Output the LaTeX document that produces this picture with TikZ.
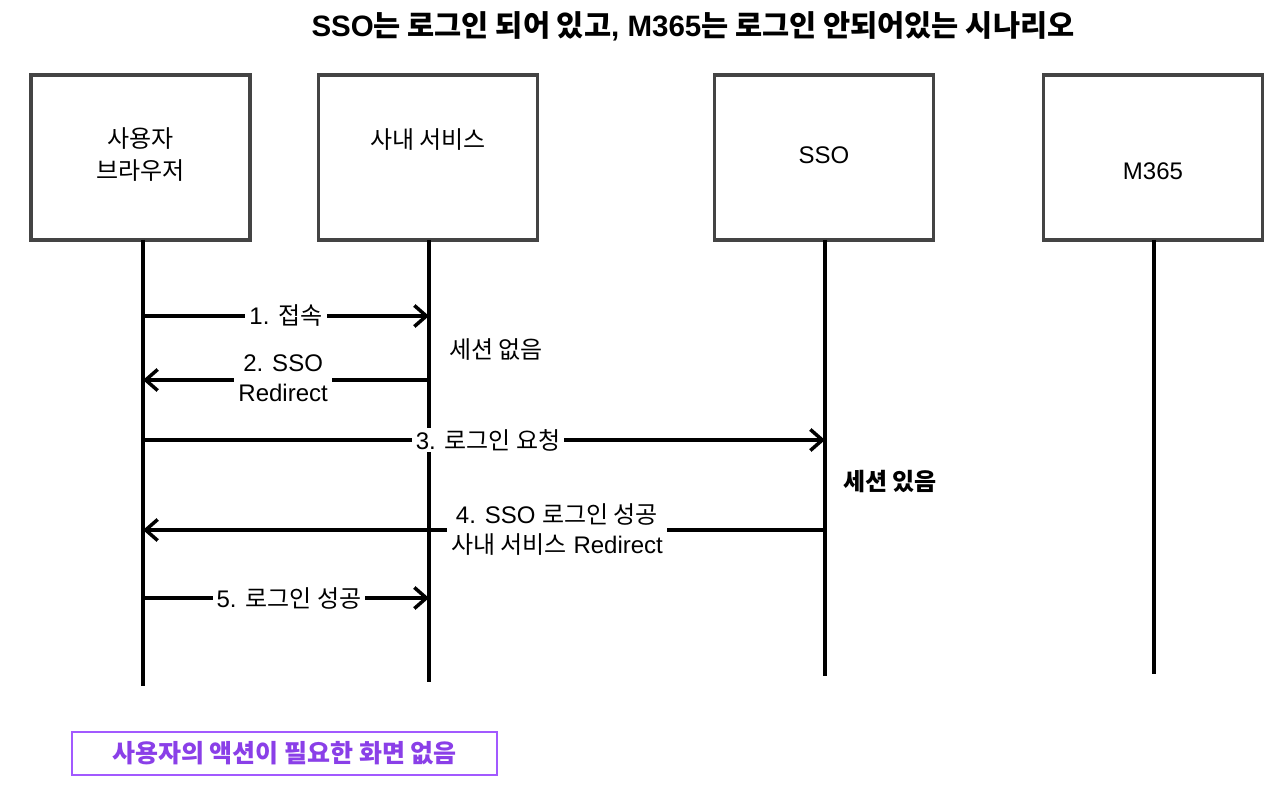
\documentclass[tikz,border=0pt]{standalone}
\usepackage{fontspec}
\setmainfont{Liberation Sans}
\newfontfamily\kr{Noto Sans CJK KR}
\newcommand{\K}[1]{{\kr #1}}
\usetikzlibrary{arrows.meta}
\definecolor{boxgray}{HTML}{444444}
\definecolor{purpleline}{HTML}{A259FF}
\definecolor{purpletext}{HTML}{8A3FE8}
\begin{document}
\begin{tikzpicture}[x=1pt,y=-1pt,
  actor/.style={draw=boxgray,line width=3.5pt,minimum width=219pt,minimum height=165pt,inner sep=0pt,fill=white},
  actortext/.style={font=\fontsize{24}{32}\selectfont,align=center},
  life/.style={line width=3.5pt,black},
  msg/.style={line width=3.5pt,-{Straight Barb[length=12pt,width=21pt,line width=3.5pt]}},
  lbl/.style={fill=white,font=\fontsize{24}{30}\selectfont,align=center,inner xsep=4pt,inner ysep=1pt},
  note/.style={font=\fontsize{24}{30}\selectfont}]
\useasboundingbox (0,0) rectangle (1286,802);
\fill[white] (0,0) rectangle (1286,802);

\node[font=\bfseries\fontsize{29.5}{32}\selectfont,inner sep=0pt] (title) at (693,26) {SSO\K{는 로그인 되어 있고}, M365\K{는 로그인 안되어있는 시나리오}};

\node[actor] (A) at (140.5,157.5) {};
\node[actor] (B) at (428,157.5) {};
\node[actor] (C) at (824,157.5) {};
\node[actor] (D) at (1153,157.5) {};

\node[actortext] (At) at (140.5,155) {\K{사용자}\\\K{브라우저}};
\node[actortext] (Bt) at (428,140) {\K{사내 서비스}};
\node[actortext] (Ct) at (824,155) {SSO};
\node[actortext] (Dt) at (1153,171) {M365};

\coordinate (Ae) at (143,686);
\coordinate (Be) at (429,682);
\coordinate (Ce) at (825,676);
\coordinate (De) at (1154,674);
\draw[life] (143,240) -- (Ae);
\draw[life] (429,240) -- (Be);
\draw[life] (825,240) -- (Ce);
\draw[life] (1154,240) -- (De);

% messages
\coordinate (a1) at (143,316); \coordinate (b1) at (429,316);
\draw[msg] (a1) -- (b1) node[lbl,pos=0.5] {1. \K{접속}};
\coordinate (a2) at (143,380); \coordinate (b2) at (429,380);
\draw[msg] (b2) -- (a2) node[lbl,pos=0.51,yshift=1.5pt] {2. SSO\\Redirect};
\node[note] (n1) at (496,350) {\K{세션 없음}};
\coordinate (a3) at (143,440); \coordinate (c3) at (825,440);
\draw[msg] (a3) -- (c3) node[lbl,pos=0.506] {3. \K{로그인 요청}};
\node[note,font=\bfseries\fontsize{24}{30}\selectfont] (n2) at (890,481) {\K{세션 있음}};
\coordinate (a4) at (143,530); \coordinate (c4) at (825,530);
\draw[msg] (c4) -- (a4) node[lbl,pos=0.393] {4. SSO \K{로그인 성공}\\\K{사내 서비스} Redirect};
\coordinate (a5) at (143,598); \coordinate (b5) at (429,598);
\draw[msg] (a5) -- (b5) node[lbl,pos=0.51] {5. \K{로그인 성공}};

\node[draw=purpleline,line width=2.5pt,minimum width=425pt,minimum height=43pt,inner sep=0pt,
  text=purpletext,font=\bfseries\fontsize{25}{30}\selectfont] (P) at (284.5,753.5) {\K{사용자의 액션이 필요한 화면 없음}};
\end{tikzpicture}
\end{document}
